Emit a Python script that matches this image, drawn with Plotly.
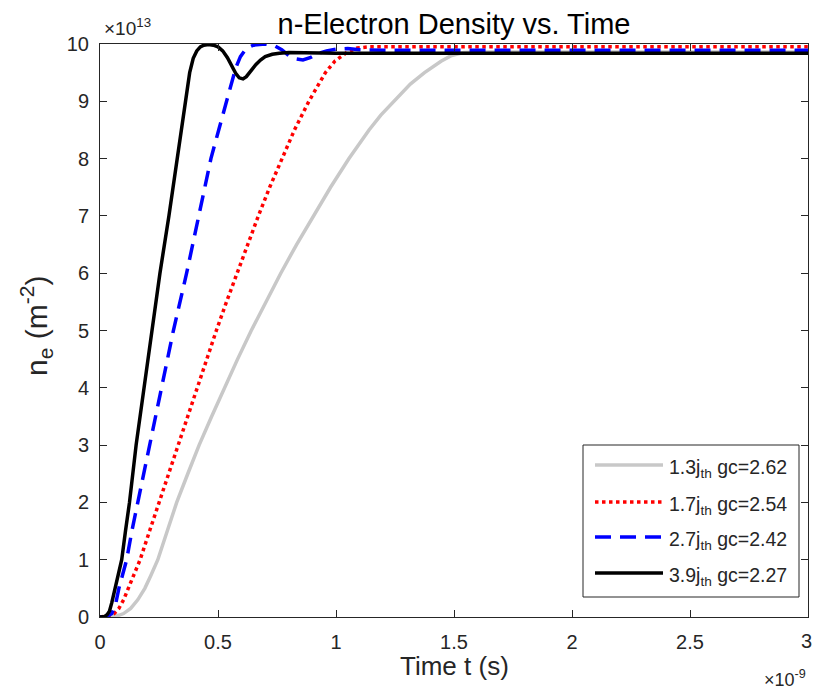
import plotly.graph_objects as go

# ---- data (time in units of 1e-9 s, density in units of 1e13 m^-2) ----
t_13 = [0, 0.05, 0.08, 0.10, 0.13, 0.16, 0.19, 0.215, 0.245, 0.285, 0.325, 0.372,
        0.42, 0.473, 0.527, 0.583, 0.641, 0.702, 0.766, 0.833, 0.903, 0.977, 1.055,
        1.14, 1.19, 1.245, 1.315, 1.375, 1.445, 1.49, 1.54, 1.60, 2.0, 2.5, 3.0]
n_13 = [0, 0.01, 0.03, 0.06, 0.15, 0.3, 0.5, 0.72, 1.0, 1.5, 2.0, 2.5,
        3.0, 3.5, 4.0, 4.5, 5.0, 5.5, 6.0, 6.5, 7.0, 7.5, 8.0,
        8.5, 8.76, 9.0, 9.3, 9.5, 9.7, 9.8, 9.85, 9.86, 9.86, 9.86, 9.86]

t_17 = [0, 0.04, 0.06, 0.08, 0.10, 0.12, 0.145, 0.17, 0.21, 0.25, 0.29, 0.33, 0.37,
        0.41, 0.451, 0.493, 0.536, 0.58, 0.625, 0.671, 0.719, 0.77, 0.824, 0.885,
        0.925, 0.955, 0.995, 1.045, 1.09, 1.14, 1.5, 2.0, 2.5, 3.0]
n_17 = [0, 0.02, 0.06, 0.15, 0.3, 0.5, 0.75, 1.0, 1.5, 2.0, 2.5, 3.0, 3.5,
        4.0, 4.5, 5.0, 5.5, 6.0, 6.5, 7.0, 7.5, 8.0, 8.5, 9.0,
        9.3, 9.5, 9.7, 9.85, 9.93, 9.95, 9.95, 9.95, 9.95, 9.95]

t_27 = [0, 0.03, 0.05, 0.065, 0.08, 0.095, 0.113, 0.135, 0.16, 0.21, 0.26, 0.311,
        0.367, 0.42, 0.47, 0.503, 0.535, 0.555, 0.575, 0.595, 0.62, 0.65, 0.70,
        0.74, 0.77, 0.80, 0.83, 0.86, 0.89, 0.92, 0.96, 1.0, 1.05, 1.1, 1.2, 1.5,
        2.0, 2.5, 3.0]
n_27 = [0, 0.01, 0.06, 0.2, 0.5, 0.75, 1.0, 1.5, 2.0, 3.0, 4.0, 5.0,
        6.0, 7.0, 8.0, 8.5, 9.0, 9.3, 9.58, 9.78, 9.92, 9.98, 10.0,
        9.97, 9.9, 9.8, 9.74, 9.72, 9.76, 9.83, 9.88, 9.91, 9.92, 9.9, 9.89, 9.89,
        9.89, 9.89, 9.89]

t_39 = [0, 0.02, 0.03, 0.04, 0.05, 0.064, 0.08, 0.092, 0.108, 0.125, 0.153, 0.186,
        0.219, 0.254, 0.292, 0.328, 0.35, 0.365, 0.38, 0.395, 0.41, 0.425, 0.44,
        0.46, 0.48, 0.50, 0.52, 0.54, 0.56, 0.575, 0.59, 0.606, 0.62, 0.64, 0.66,
        0.68, 0.70, 0.73, 0.76, 0.80, 0.9, 1.0, 1.5, 2.0, 2.5, 3.0]
n_39 = [0, 0.01, 0.04, 0.1, 0.25, 0.5, 0.78, 1.0, 1.5, 2.0, 3.0, 4.0,
        5.0, 6.0, 7.0, 8.0, 8.65, 9.1, 9.5, 9.75, 9.88, 9.95, 9.98,
        9.99, 9.98, 9.95, 9.88, 9.76, 9.6, 9.49, 9.41, 9.39, 9.43, 9.54, 9.64,
        9.72, 9.78, 9.82, 9.84, 9.85, 9.84, 9.84, 9.84, 9.84, 9.84, 9.84]

series_t = [t_13, t_17, t_27, t_39]
series_n = [n_13, n_17, n_27, n_39]
labels = ["1.3j<sub>th</sub> gc=2.62", "1.7j<sub>th</sub> gc=2.54",
          "2.7j<sub>th</sub> gc=2.42", "3.9j<sub>th</sub> gc=2.27"]
colors = ["#c8c8c8", "#ff0000", "#0000ff", "#000000"]
dashes = ["solid", "dot", "16px,9px", "solid"]
widths = [3.5, 3.5, 3.5, 3.5]

x_ticks = [0, 0.5, 1, 1.5, 2, 2.5, 3]
x_ticktext = ["0", "0.5", "1", "1.5", "2", "2.5", "3"]
y_ticks = list(range(0, 11))

# ---- figure geometry ----
W, H = 813, 693
L, R, T, B = 100, 5, 44, 76
PW, PH = W - L - R, H - T - B


def px(x):
    return (x - L) / PW


def py(y):
    return (H - B - y) / PH


FONT = "Liberation Sans, Arial, Helvetica, sans-serif"
AX = "#262626"

fig = go.Figure()
for t, n, lab, c, d, w in zip(series_t, series_n, labels, colors, dashes, widths):
    fig.add_trace(go.Scatter(x=t, y=n, mode="lines", name=lab,
                             line=dict(color=c, dash=d, width=w),
                             showlegend=False))

axis_common = dict(showline=True, linecolor=AX, linewidth=1, mirror="ticks",
                   ticks="inside", ticklen=7, tickcolor=AX, tickwidth=1,
                   showgrid=False, zeroline=False,
                   tickfont=dict(family=FONT, size=20, color=AX))

fig.update_layout(
    width=W, height=H,
    margin=dict(l=L, r=R, t=T, b=B),
    paper_bgcolor="white", plot_bgcolor="white",
    title=dict(text="n-Electron Density vs. Time", x=0.5, xref="paper",
               xanchor="center", y=1 - 24 / H, yref="container", yanchor="middle",
               font=dict(family=FONT, size=29, color="#000000")),
    # the last x tick label sits on the page edge; it is drawn below as a
    # right-anchored label so that it stays inside the page
    xaxis=dict(range=[0, 3], tickvals=x_ticks, ticktext=x_ticktext,
               ticklabelstandoff=7, **axis_common),
    yaxis=dict(range=[0, 10], tickvals=y_ticks, ticklabelstandoff=6, **axis_common),
)

annotations = [
    dict(text=x_ticktext[-1], x=px(814), y=py(641), xref="paper", yref="paper",
         xanchor="right", yanchor="middle", showarrow=False,
         font=dict(family=FONT, size=20, color=AX)),
    dict(text="Time t (s)", x=0.5, y=py(666), xref="paper", yref="paper",
         xanchor="center", yanchor="middle", showarrow=False,
         font=dict(family=FONT, size=26, color=AX)),
    dict(text="n<sub>e</sub> (m<sup>-2</sup>)", x=px(36), y=py(326), xref="paper",
         yref="paper", xanchor="center", yanchor="middle", textangle=-90,
         showarrow=False, font=dict(family=FONT, size=30, color=AX)),
    dict(text="×10<sup>13</sup>", x=px(102), y=py(27), xref="paper", yref="paper",
         xanchor="left", yanchor="middle", showarrow=False,
         font=dict(family=FONT, size=19, color=AX)),
    dict(text="×10<sup>-9</sup>", x=px(808), y=py(678), xref="paper", yref="paper",
         xanchor="right", yanchor="middle", showarrow=False,
         font=dict(family=FONT, size=18, color=AX)),
]

shapes = [dict(type="rect", xref="paper", yref="paper",
               x0=px(583), x1=px(799), y0=py(597), y1=py(445),
               line=dict(color=AX, width=1), fillcolor="white", layer="above")]

legend_y = [465, 502, 537, 573]
for lab, c, d, w, ly in zip(labels, colors, dashes, widths, legend_y):
    shapes.append(dict(type="line", xref="paper", yref="paper",
                       x0=px(595), x1=px(663), y0=py(ly), y1=py(ly),
                       line=dict(color=c, width=w, dash=d), layer="above"))
    annotations.append(dict(text=lab, x=px(667), y=py(ly + 3), xref="paper",
                            yref="paper", xanchor="left", yanchor="middle",
                            showarrow=False,
                            font=dict(family=FONT, size=19.5, color=AX)))

fig.update_layout(annotations=annotations, shapes=shapes)
fig.write_html("out.html")
